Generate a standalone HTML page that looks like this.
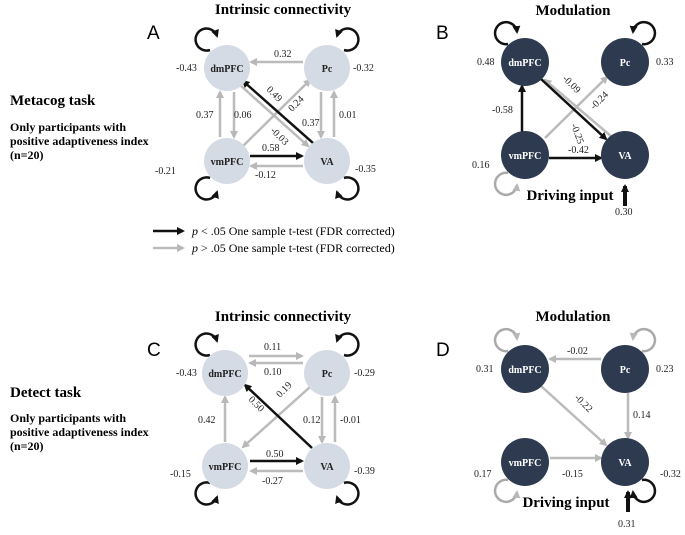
<!DOCTYPE html>
<html><head><meta charset="utf-8"><style>
html,body{margin:0;padding:0;background:#fff}
svg{display:block}
text{font-family:"Liberation Serif",serif}
.n{font-size:10px;fill:#222}
.lbl{font-size:10px;font-weight:bold;text-anchor:middle}
.t{font-size:15px;font-weight:bold;text-anchor:middle}
.p{font-family:"Liberation Sans",sans-serif;font-size:19px}
</style></head><body>
<svg width="685" height="535" viewBox="0 0 685 535" xmlns="http://www.w3.org/2000/svg">
<defs>
<marker id="mb" markerWidth="8" markerHeight="8" refX="6" refY="4" orient="auto" markerUnits="userSpaceOnUse"><path d="M0,0L8,4L0,8z" fill="#111"/></marker>
<marker id="mg" markerWidth="8" markerHeight="8" refX="6" refY="4" orient="auto" markerUnits="userSpaceOnUse"><path d="M0,0L8,4L0,8z" fill="#b8b8b8"/></marker>
</defs>
<g fill="none" stroke-width="2.5">
<line x1="303" y1="62" x2="251" y2="62" stroke="#bbb" marker-end="url(#mg)"/>
<line x1="220" y1="137" x2="220" y2="92" stroke="#bbb" marker-end="url(#mg)"/>
<line x1="234" y1="92" x2="234" y2="137" stroke="#bbb" marker-end="url(#mg)"/>
<line x1="321" y1="92" x2="321" y2="137" stroke="#bbb" marker-end="url(#mg)"/>
<line x1="334" y1="137" x2="334" y2="92" stroke="#bbb" marker-end="url(#mg)"/>
<line x1="250" y1="156" x2="302" y2="156" stroke="#111" marker-end="url(#mb)"/>
<line x1="303" y1="166" x2="251" y2="166" stroke="#bbb" marker-end="url(#mg)"/>
<line x1="243" y1="146" x2="310" y2="80" stroke="#bbb" marker-end="url(#mg)"/>
<line x1="240" y1="85" x2="308" y2="146" stroke="#bbb" marker-end="url(#mg)"/>
<line x1="313" y1="143" x2="243" y2="81" stroke="#111" marker-end="url(#mb)"/>
<line x1="522" y1="132" x2="522" y2="86" stroke="#111" marker-end="url(#mb)"/>
<line x1="612" y1="137" x2="545" y2="80" stroke="#bbb" marker-end="url(#mg)"/>
<line x1="545" y1="138" x2="607" y2="77" stroke="#bbb" marker-end="url(#mg)"/>
<line x1="541" y1="79" x2="606" y2="139" stroke="#111" marker-end="url(#mb)"/>
<line x1="549" y1="158" x2="601" y2="158" stroke="#111" marker-end="url(#mb)"/>
<line x1="625" y1="206" x2="625" y2="186" stroke="#111" stroke-width="4" marker-end="url(#mb)"/>
<line x1="249" y1="356" x2="302" y2="356" stroke="#bbb" marker-end="url(#mg)"/>
<line x1="303" y1="363" x2="250" y2="363" stroke="#bbb" marker-end="url(#mg)"/>
<line x1="225" y1="442" x2="225" y2="397" stroke="#bbb" marker-end="url(#mg)"/>
<line x1="322" y1="397" x2="322" y2="442" stroke="#bbb" marker-end="url(#mg)"/>
<line x1="335" y1="442" x2="335" y2="397" stroke="#bbb" marker-end="url(#mg)"/>
<line x1="250" y1="461" x2="302" y2="461" stroke="#111" marker-end="url(#mb)"/>
<line x1="303" y1="471" x2="251" y2="471" stroke="#bbb" marker-end="url(#mg)"/>
<line x1="310" y1="387" x2="243" y2="447" stroke="#bbb" marker-end="url(#mg)"/>
<line x1="312" y1="448" x2="245" y2="385" stroke="#111" marker-end="url(#mb)"/>
<line x1="601" y1="359" x2="550" y2="359" stroke="#bbb" marker-end="url(#mg)"/>
<line x1="541" y1="386" x2="606" y2="445" stroke="#bbb" marker-end="url(#mg)"/>
<line x1="628" y1="393" x2="628" y2="438" stroke="#bbb" marker-end="url(#mg)"/>
<line x1="550" y1="458" x2="601" y2="458" stroke="#bbb" marker-end="url(#mg)"/>
<line x1="628" y1="512" x2="628" y2="492" stroke="#111" stroke-width="4" marker-end="url(#mb)"/>
<line x1="153" y1="231" x2="183" y2="231" stroke="#111" marker-end="url(#mb)"/>
<line x1="153" y1="248" x2="183" y2="248" stroke="#bbb" marker-end="url(#mg)"/>
<path d="M212,50 A11,11 0 1 1 219,36" stroke="#111" transform="translate(-2,0)" marker-end="url(#mb)"/>
<path d="M342,50 A11,11 0 1 0 335,36" stroke="#111" transform="translate(2,0)" marker-end="url(#mb)"/>
<path d="M212,178 A11,11 0 1 0 219,192" stroke="#111" transform="translate(-2,0)" marker-end="url(#mb)"/>
<path d="M342,178 A11,11 0 1 1 335,192" stroke="#111" transform="translate(2,0)" marker-end="url(#mb)"/>
<path d="M508,44 A11,11 0 1 1 517,32" stroke="#111" marker-end="url(#mb)"/>
<path d="M642,44 A11,11 0 1 0 633,32" stroke="#111" marker-end="url(#mb)"/>
<path d="M508,173 A11,11 0 1 0 517,185" stroke="#aaa" marker-end="url(#mg)"/>
<path d="M210,355 A11,11 0 1 1 217,341" stroke="#111" marker-end="url(#mb)"/>
<path d="M344,355 A11,11 0 1 0 337,341" stroke="#111" marker-end="url(#mb)"/>
<path d="M210,483 A11,11 0 1 0 217,497" stroke="#111" marker-end="url(#mb)"/>
<path d="M344,483 A11,11 0 1 1 337,497" stroke="#111" marker-end="url(#mb)"/>
<path d="M508,351 A11,11 0 1 1 517,339" stroke="#aaa" marker-end="url(#mg)"/>
<path d="M642,351 A11,11 0 1 0 633,339" stroke="#aaa" marker-end="url(#mg)"/>
<path d="M508,480 A11,11 0 1 0 517,492" stroke="#aaa" marker-end="url(#mg)"/>
<path d="M642,480 A11,11 0 1 1 633,492" stroke="#111" marker-end="url(#mb)"/>
</g>
<g fill="#d5dbe5">
<circle cx="227" cy="68" r="23"/><circle cx="327" cy="68" r="23"/><circle cx="227" cy="161" r="23"/><circle cx="327" cy="161" r="23"/>
<circle cx="225" cy="373" r="23"/><circle cx="327" cy="373" r="23"/><circle cx="225" cy="466" r="23"/><circle cx="327" cy="466" r="23"/>
</g>
<g fill="#2e3a4f">
<circle cx="525" cy="62" r="24"/><circle cx="625" cy="62" r="24"/><circle cx="525" cy="155" r="24"/><circle cx="625" cy="155" r="24"/>
<circle cx="525" cy="369" r="24"/><circle cx="625" cy="369" r="24"/><circle cx="525" cy="462" r="24"/><circle cx="625" cy="462" r="24"/>
</g>
<g fill="#222">
<text x="227" y="72" class="lbl">dmPFC</text><text x="327" y="72" class="lbl">Pc</text><text x="227" y="165" class="lbl">vmPFC</text><text x="327" y="165" class="lbl">VA</text>
<text x="225" y="377" class="lbl">dmPFC</text><text x="327" y="377" class="lbl">Pc</text><text x="225" y="470" class="lbl">vmPFC</text><text x="327" y="470" class="lbl">VA</text>
</g>
<g fill="#fff">
<text x="525" y="66" class="lbl" fill="#fff">dmPFC</text><text x="625" y="66" class="lbl" fill="#fff">Pc</text><text x="525" y="159" class="lbl" fill="#fff">vmPFC</text><text x="625" y="159" class="lbl" fill="#fff">VA</text>
<text x="525" y="373" class="lbl" fill="#fff">dmPFC</text><text x="625" y="373" class="lbl" fill="#fff">Pc</text><text x="525" y="466" class="lbl" fill="#fff">vmPFC</text><text x="625" y="466" class="lbl" fill="#fff">VA</text>
</g>
<text x="283" y="14" class="t">Intrinsic connectivity</text>
<text x="573" y="15" class="t">Modulation</text>
<text x="283" y="321" class="t">Intrinsic connectivity</text>
<text x="573" y="321" class="t">Modulation</text>
<text x="570" y="200" class="t">Driving input</text>
<text x="566" y="507" class="t">Driving input</text>
<text x="147" y="39" class="p">A</text>
<text x="436" y="39" class="p">B</text>
<text x="147" y="356" class="p">C</text>
<text x="436" y="356" class="p">D</text>
<text x="10" y="105" style="font-size:15px;font-weight:bold">Metacog task</text>
<text x="10" y="131" style="font-size:12px;font-weight:bold">Only participants with</text>
<text x="10" y="145" style="font-size:12px;font-weight:bold">positive adaptiveness index</text>
<text x="10" y="159" style="font-size:12px;font-weight:bold">(n=20)</text>
<text x="10" y="397" style="font-size:15px;font-weight:bold">Detect task</text>
<text x="10" y="422" style="font-size:12px;font-weight:bold">Only participants with</text>
<text x="10" y="436" style="font-size:12px;font-weight:bold">positive adaptiveness index</text>
<text x="10" y="450" style="font-size:12px;font-weight:bold">(n=20)</text>
<text x="192" y="235" style="font-size:12px"><tspan font-style="italic">p</tspan> &lt; .05  One sample t-test (FDR corrected)</text>
<text x="192" y="252" style="font-size:12px"><tspan font-style="italic">p</tspan> &gt; .05  One sample t-test (FDR corrected)</text>
<g class="n">
<text x="274" y="57" class="n">0.32</text>
<text x="176" y="71" class="n">-0.43</text>
<text x="353" y="71" class="n">-0.32</text>
<text x="196" y="118" class="n">0.37</text>
<text x="234" y="118" class="n">0.06</text>
<text x="302" y="126" class="n">0.37</text>
<text x="339" y="118" class="n">0.01</text>
<text x="262" y="151" class="n">0.58</text>
<text x="255" y="178" class="n">-0.12</text>
<text x="155" y="174" class="n">-0.21</text>
<text x="355" y="172" class="n">-0.35</text>
<text class="n" transform="translate(266,90) rotate(45)">0.49</text>
<text class="n" transform="translate(292,112) rotate(-45)">0.24</text>
<text class="n" transform="translate(270,131) rotate(45)">-0.03</text>
<text x="477" y="65" class="n">0.48</text>
<text x="656" y="65" class="n">0.33</text>
<text x="492" y="113" class="n">-0.58</text>
<text x="472" y="168" class="n">0.16</text>
<text x="568" y="153" class="n">-0.42</text>
<text x="615" y="215" class="n">0.30</text>
<text class="n" transform="translate(562,79) rotate(45)">-0.09</text>
<text class="n" transform="translate(594,110) rotate(-45)">-0.24</text>
<text class="n" transform="translate(571,125) rotate(70)">-0.25</text>
<text x="264" y="350" class="n">0.11</text>
<text x="264" y="375" class="n">0.10</text>
<text x="176" y="376" class="n">-0.43</text>
<text x="354" y="376" class="n">-0.29</text>
<text x="198" y="423" class="n">0.42</text>
<text x="303" y="423" class="n">0.12</text>
<text x="340" y="423" class="n">-0.01</text>
<text x="266" y="457" class="n">0.50</text>
<text x="262" y="484" class="n">-0.27</text>
<text x="170" y="477" class="n">-0.15</text>
<text x="354" y="474" class="n">-0.39</text>
<text class="n" transform="translate(248,400) rotate(45)">0.50</text>
<text class="n" transform="translate(280,398) rotate(-45)">0.19</text>
<text x="567" y="354" class="n">-0.02</text>
<text x="476" y="372" class="n">0.31</text>
<text x="656" y="372" class="n">0.23</text>
<text x="633" y="418" class="n">0.14</text>
<text x="474" y="477" class="n">0.17</text>
<text x="562" y="477" class="n">-0.15</text>
<text x="660" y="477" class="n">-0.32</text>
<text x="618" y="527" class="n">0.31</text>
<text class="n" transform="translate(574,398) rotate(45)">-0.22</text>
</g>
</svg>
</body></html>
